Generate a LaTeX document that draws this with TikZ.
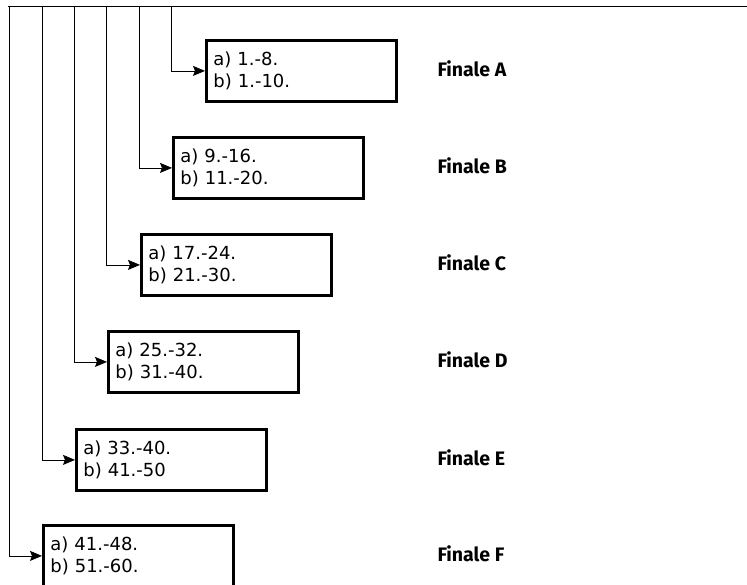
\documentclass[tikz,border=0pt]{standalone}
\usepackage{fontspec}
\setmainfont{DejaVu Sans}
\newfontfamily\labelfont{Fira Sans}
\usetikzlibrary{arrows.meta}

\begin{document}
\begin{tikzpicture}[x=1pt, y=-1pt,
          box/.style={rectangle, draw, line width=2.8pt, anchor=north west,
                      minimum width=190pt, minimum height=61pt,
                      text width=176pt, align=left, inner xsep=4.5pt,
                      font=\fontsize{18}{22}\selectfont},
          fin/.style={anchor=west, font=\labelfont\fontsize{19.5}{22}\selectfont\bfseries},
          arr/.style={-{Stealth[length=12pt, width=10pt, inset=2pt]}, line width=0.8pt}
        ]
        \useasboundingbox (0,0) rectangle (747,584);

        % top bar
        \coordinate (barl) at (8,6);
        \coordinate (barr) at (747,6);
        \draw[line width=0.8pt] (barl) -- (barr);

        % groups
        \foreach \i/\x/\y/\v/\a/\b in {A/205/39/171/{1.-8.}/{1.-10.},
                                       B/172/136/139/{9.-16.}/{11.-20.},
                                       C/140/233/106/{17.-24.}/{21.-30.},
                                       D/107/330/74/{25.-32.}/{31.-40.},
                                       E/75/428/42/{33.-40.}/{41.-50},
                                       F/42/524/9/{41.-48.}/{51.-60.}} {
          \node[box] (box\i) at (\x,\y) {a) \a\\b) \b};
          \coordinate (top\i) at (\v,6);
          \draw[arr] (top\i) |- (box\i.west);
          \node[fin] (fin\i) at (434,\y+30) {Finale \i};
        }
      \end{tikzpicture}
\end{document}
